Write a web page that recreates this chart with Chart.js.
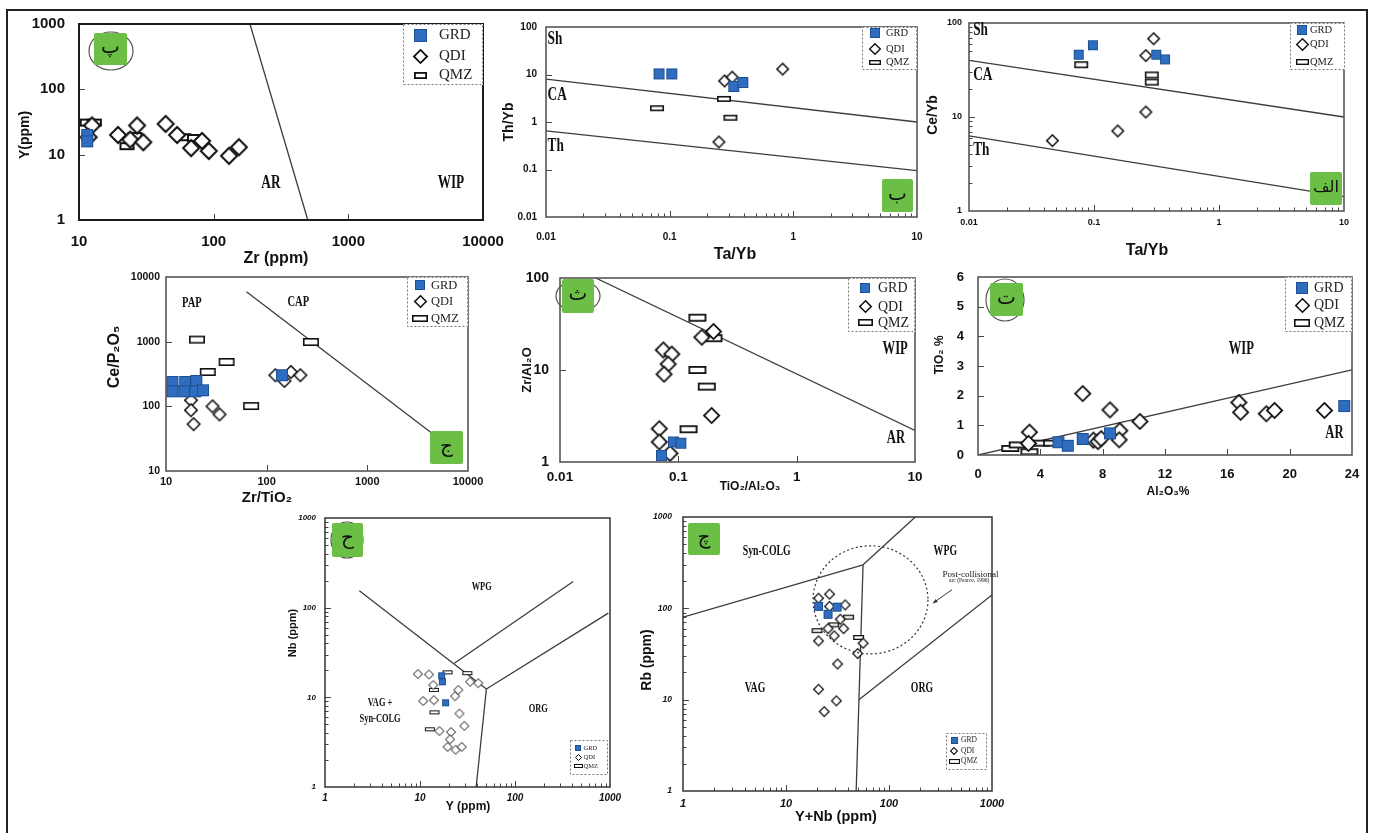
<!DOCTYPE html>
<html>
<head>
<meta charset="utf-8">
<script src="https://cdn.jsdelivr.net/npm/chart.js@4.4.1/dist/chart.umd.min.js"></script>
<style>
  html, body { margin: 0; padding: 0; background: #fff; }
  #page { position: relative; width: 1373px; height: 833px; overflow: hidden; background: #fff; }
  #page canvas { position: absolute; left: 0; top: 0; }
  #frame { position: absolute; left: 6px; top: 9px; width: 1362px; height: 840px; border: 2px solid #222; box-sizing: border-box; }
</style>
</head>
<body>
<div id="page"><div id="frame"></div></div>
<script>
// ---------- tick values ----------
const DEC_10_10000 = [10, 100, 1000, 10000];
const DEC_1_1000 = [1, 10, 100, 1000];
const DEC_001_10 = [0.01, 0.1, 1, 10];
const DEC_001_100 = [0.01, 0.1, 1, 10, 100];
const DEC_1_100 = [1, 10, 100];
const AL2O3_TICKS = [0, 4, 8, 12, 16, 20, 24];
const TIO2_TICKS = [0, 1, 2, 3, 4, 5, 6];

// ---------- Y vs Zr ----------
const ZR_Y_GRD = [[11.5, 20], [11.5, 16]];
const ZR_Y_QDI = [[12.5, 28], [11.8, 18.5], [19.5, 20], [24, 17], [27, 28], [30, 15.5], [44, 29.6], [53.5, 20],
                  [68, 12.6], [82, 16.2], [92, 11.4], [130, 9.6], [154, 13]];
const ZR_Y_QMZ = [[11.5, 31], [13, 31], [22.7, 13.5], [26, 19.3], [60, 18.5], [72, 18]];
const ZR_Y_BOUNDARY = [[186, 1000], [500, 1]];

// ---------- Th/Yb vs Ta/Yb ----------
const TA_TH_GRD = [[0.082, 10.3], [0.104, 10.3], [0.33, 5.6], [0.39, 6.8]];
const TA_TH_QDI = [[0.278, 7.3], [0.32, 8.8], [0.82, 13], [0.25, 0.38]];
const TA_TH_QMZ = [[0.079, 1.95], [0.275, 3.06], [0.31, 1.23]];
const TA_TH_SH_CA = [[0.01, 8], [10, 1]];
const TA_TH_CA_TH = [[0.01, 0.65], [10, 0.095]];

// ---------- Ce/Yb vs Ta/Yb ----------
const TA_CE_GRD = [[0.0755, 46], [0.098, 58], [0.315, 46], [0.37, 41]];
const TA_CE_QDI = [[0.30, 68], [0.26, 45], [0.26, 11.3], [0.155, 7.1], [0.0465, 5.6]];
const TA_CE_QMZ = [[0.079, 36], [0.29, 28], [0.29, 23.5]];
const TA_CE_SH_CA = [[0.01, 40], [10, 10]];
const TA_CE_CA_TH = [[0.01, 6.3], [10, 1.42]];

// ---------- Ce/P2O5 vs Zr/TiO2 ----------
const ZRTI_CEP_GRD = [[11.6, 238], [15.5, 238], [20, 247], [11.6, 171], [15.2, 171], [19.5, 171], [23.3, 177], [142, 303]];
const ZRTI_CEP_QDI = [[17.7, 124], [17.7, 87], [18.8, 53], [29, 100], [34, 75], [122, 303], [174, 340], [150, 247], [216, 303]];
const ZRTI_CEP_QMZ = [[20.3, 1076], [40, 485], [26, 340], [70, 101], [275, 990]];
const ZRTI_CEP_BOUNDARY = [[63, 5900], [5700, 28]];

// ---------- Zr/Al2O3 vs TiO2/Al2O3 ----------
const TIAL_ZRAL_GRD = [[0.072, 1.18], [0.091, 1.65], [0.105, 1.6]];
const TIAL_ZRAL_QDI = [[0.0746, 16.5], [0.088, 14.9], [0.082, 11.6], [0.0757, 9.0], [0.158, 22.7], [0.198, 26.2],
                       [0.191, 3.2], [0.069, 2.3], [0.069, 1.65], [0.085, 1.24]];
const TIAL_ZRAL_QMZ = [[0.145, 37], [0.198, 22.2], [0.145, 10], [0.174, 6.6], [0.122, 2.27]];
const TIAL_ZRAL_BOUNDARY = [[0.02, 100], [10, 2.2]];

// ---------- TiO2 vs Al2O3 ----------
const AL_TI_GRD = [[23.5, 1.65], [8.47, 0.73], [6.72, 0.54], [5.16, 0.43], [5.76, 0.31]];
const AL_TI_QDI = [[6.72, 2.07], [8.47, 1.52], [10.39, 1.13], [16.74, 1.77], [16.85, 1.44], [18.5, 1.39], [19.03, 1.5],
                   [22.23, 1.5], [3.3, 0.77], [9.1, 0.82], [9.06, 0.51], [7.4, 0.5], [7.7, 0.45], [7.9, 0.55], [3.24, 0.39]];
const AL_TI_QMZ = [[2.07, 0.22], [2.55, 0.34], [3.3, 0.11], [4.0, 0.4], [4.75, 0.4]];
const AL_TI_BOUNDARY = [[0, 0], [24, 2.87]];

// ---------- Nb vs Y ----------
const Y_NB_GRD = [[16.9, 17.4], [17.2, 14.9], [18.6, 8.7]];
const Y_NB_QDI = [[9.5, 18.2], [12.4, 18], [13.8, 13.7], [10.8, 9.1], [14, 9.3], [23.4, 10.3], [25.3, 12.1], [33.6, 14.9],
                  [41, 14.4], [26, 6.6], [29.3, 4.8], [16, 4.2], [21.2, 4.1], [20.7, 3.4], [19.5, 2.8], [23.7, 2.6], [27.5, 2.8]];
const Y_NB_QMZ = [[19.5, 19], [31.5, 18.6], [14, 12.1], [14.2, 6.8], [12.7, 4.4]];
const Y_NB_WPG_VAG = [[2.3, 154], [50, 12.4]];
const Y_NB_WPG_ORG = [[23, 24], [410, 196]];
const Y_NB_ORG_UP = [[50, 12.4], [960, 87]];
const Y_NB_VAG_ORG = [[50, 12.4], [39, 1]];

// ---------- Rb vs Y+Nb ----------
const YNB_RB_GRD = [[20.7, 105], [31.3, 103], [25.6, 86]];
const YNB_RB_QDI = [[20.7, 129], [26.5, 143], [26.5, 105], [37.6, 109], [33.7, 76], [36.3, 60], [25.6, 60], [29.4, 50],
                    [20.7, 44], [56, 41.5], [49.6, 32], [31.7, 24.6], [20.7, 13], [30.8, 9.7], [23.5, 7.4]];
const YNB_RB_QMZ = [[20, 57], [29, 66], [40.5, 80], [50.7, 48]];
const YNB_RB_SYN_VAG = [[1, 80], [56, 300]];
const YNB_RB_SYN_WPG = [[56, 300], [180, 1000]];
const YNB_RB_VAG_WPG = [[56, 300], [48, 1]];
const YNB_RB_WPG_ORG = [[51, 10], [1000, 140]];
const YNB_RB_POST_COLG = [[18.3, 31.7], [239, 484]];   // extent of the post-collisional field
const YNB_RB_POINTER = [[409, 160], [267, 114]];

// ---------- styling ----------
const BLUE = '#2e6dbf';
const BLUE_EDGE = '#1e4f92';
const GREEN = '#6cbf45';
const SANS = '"Liberation Sans", Arial, sans-serif';
const SERIF = '"Liberation Serif", "Times New Roman", serif';
const ARABIC = '"DejaVu Sans", "Noto Sans", sans-serif';

function marker(kind, w, h, lw) {
  const pad = 2;
  const c = document.createElement('canvas');
  c.width = Math.round(w + 2 * pad);
  c.height = Math.round(h + 2 * pad);
  const g = c.getContext('2d');
  const cx = c.width / 2, cy = c.height / 2;
  if (kind === 'GRD') {
    g.fillStyle = BLUE;
    g.fillRect(cx - w / 2, cy - h / 2, w, h);
    g.strokeStyle = BLUE_EDGE; g.lineWidth = 1;
    g.strokeRect(cx - w / 2 + 0.5, cy - h / 2 + 0.5, w - 1, h - 1);
  } else if (kind === 'QDI') {
    const r = w / 2 - lw / 2;
    g.beginPath();
    g.moveTo(cx, cy - r); g.lineTo(cx + r, cy); g.lineTo(cx, cy + r); g.lineTo(cx - r, cy); g.closePath();
    g.fillStyle = '#fff'; g.fill();
    g.strokeStyle = '#111'; g.lineWidth = lw; g.lineJoin = 'miter'; g.stroke();
  } else {
    g.fillStyle = '#fff';
    g.fillRect(cx - w / 2, cy - h / 2, w, h);
    g.strokeStyle = '#111'; g.lineWidth = lw;
    g.strokeRect(cx - w / 2 + lw / 2, cy - h / 2 + lw / 2, w - lw, h - lw);
  }
  return c;
}

function markerSet(m) {
  return {
    GRD: marker('GRD', m.sq, m.sq, m.lw),
    QDI: marker('QDI', m.di, m.di, m.lw),
    QMZ: marker('QMZ', m.rw, m.rh, m.lw)
  };
}

const PANELS = [
  { // Y vs Zr
    area: [79, 24, 483, 220],
    x: { type: 'logarithmic', min: 10, max: 10000, ticks: DEC_10_10000, size: 15, pad: 13, style: 'normal', minor: false },
    y: { type: 'logarithmic', min: 1, max: 1000, ticks: DEC_1_1000, size: 15, pad: 14, style: 'normal', minor: false },
    sets: { GRD: ZR_Y_GRD, QDI: ZR_Y_QDI, QMZ: ZR_Y_QMZ },
    lines: [ZR_Y_BOUNDARY],
    mk: { sq: 12, di: 18, rw: 15, rh: 8, lw: 2 },
    frame: { color: '#1a1a1a', width: 2 },
    xTitle: { text: 'Zr (ppm)', x: 276, y: 259, size: 16 },
    yTitle: { text: 'Y(ppm)', x: 25, y: 135, size: 14 },
    fields: [{ t: 'AR', x: 266, y: 3.7, size: 19 }, { t: 'WIP', x: 5780, y: 3.7, size: 19 }],
    legend: { box: [403, 24, 483, 85], rows: [35, 56, 75], mx: 420, tx: 439, size: 15, mk: { sq: 13, di: 15, rw: 13, rh: 7, lw: 1.8 } },
    badge: { box: [94, 33, 127, 65], text: 'پ', size: 20, ring: [111, 51, 22, 19] }
  },
  { // Th/Yb vs Ta/Yb
    area: [546, 27, 917, 217],
    x: { type: 'logarithmic', min: 0.01, max: 10, ticks: DEC_001_10, size: 10, pad: 14, style: 'normal', minor: true },
    y: { type: 'logarithmic', min: 0.01, max: 100, ticks: DEC_001_100, size: 10, pad: 9, style: 'normal', minor: false },
    sets: { GRD: TA_TH_GRD, QDI: TA_TH_QDI, QMZ: TA_TH_QMZ },
    lines: [TA_TH_SH_CA, TA_TH_CA_TH],
    mk: { sq: 11, di: 13, rw: 14, rh: 6, lw: 1.6 },
    frame: { color: '#555', width: 1.6 },
    xTitle: { text: 'Ta/Yb', x: 735, y: 255, size: 16 },
    yTitle: { text: 'Th/Yb', x: 509, y: 122, size: 14 },
    fields: [{ t: 'Sh', x: 0.0103, y: 56.6, size: 19, align: 'left' }, { t: 'CA', x: 0.0103, y: 3.7, size: 19, align: 'left' },
             { t: 'Th', x: 0.0103, y: 0.31, size: 19, align: 'left' }],
    legend: { box: [862, 27, 917, 70], rows: [33, 49, 62], mx: 875, tx: 886, size: 10.5, mk: { sq: 10, di: 12, rw: 12, rh: 5, lw: 1.4 } },
    badge: { box: [882, 179, 913, 212], text: 'ب', size: 20 }
  },
  { // Ce/Yb vs Ta/Yb
    area: [969, 23, 1344, 211],
    x: { type: 'logarithmic', min: 0.01, max: 10, ticks: DEC_001_10, size: 9, pad: 6, style: 'normal', minor: true },
    y: { type: 'logarithmic', min: 1, max: 100, ticks: DEC_1_100, size: 9, pad: 7, style: 'normal', minor: true },
    sets: { GRD: TA_CE_GRD, QDI: TA_CE_QDI, QMZ: TA_CE_QMZ },
    lines: [TA_CE_SH_CA, TA_CE_CA_TH],
    mk: { sq: 10, di: 13, rw: 14, rh: 7, lw: 1.6 },
    frame: { color: '#555', width: 1.6 },
    xTitle: { text: 'Ta/Yb', x: 1147, y: 251, size: 16 },
    yTitle: { text: 'Ce/Yb', x: 933, y: 115, size: 14 },
    fields: [{ t: 'Sh', x: 0.0108, y: 83.6, size: 19, align: 'left' }, { t: 'CA', x: 0.0108, y: 27.8, size: 19, align: 'left' },
             { t: 'Th', x: 0.0108, y: 4.5, size: 19, align: 'left' }],
    legend: { box: [1290, 23, 1345, 70], rows: [30, 44, 62], mx: 1302, tx: 1310, size: 10.5, mk: { sq: 10, di: 13, rw: 13, rh: 6, lw: 1.4 } },
    badge: { box: [1310, 172, 1342, 205], text: 'الف', size: 16 }
  },
  { // Ce/P2O5 vs Zr/TiO2
    area: [166, 277, 468, 471],
    x: { type: 'logarithmic', min: 10, max: 10000, ticks: DEC_10_10000, size: 11, pad: 4, style: 'normal', minor: false },
    y: { type: 'logarithmic', min: 10, max: 10000, ticks: DEC_10_10000, size: 10.5, pad: 6, style: 'normal', minor: false },
    sets: { GRD: ZRTI_CEP_GRD, QDI: ZRTI_CEP_QDI, QMZ: ZRTI_CEP_QMZ },
    lines: [ZRTI_CEP_BOUNDARY],
    mk: { sq: 12, di: 14, rw: 16, rh: 8, lw: 1.6 },
    frame: { color: '#555', width: 1.6 },
    xTitle: { text: 'Zr/TiO₂', x: 267, y: 498, size: 15 },
    yTitle: { text: 'Ce/P₂O₅', x: 115, y: 357, size: 16 },
    fields: [{ t: 'PAP', x: 18.1, y: 3880, size: 15 }, { t: 'CAP', x: 206, y: 4110, size: 15 }],
    legend: { box: [407, 277, 468, 327], rows: [285, 301.5, 318], mx: 420, tx: 431, size: 12.5, mk: { sq: 10, di: 13, rw: 16, rh: 7, lw: 1.6 } },
    badge: { box: [430, 431, 463, 464], text: 'ج', size: 20 }
  },
  { // Zr/Al2O3 vs TiO2/Al2O3
    area: [560, 278, 915, 462],
    x: { type: 'logarithmic', min: 0.01, max: 10, ticks: DEC_001_10, size: 13.5, pad: 7, style: 'normal', minor: false },
    y: { type: 'logarithmic', min: 1, max: 100, ticks: DEC_1_100, size: 14, pad: 11, style: 'normal', minor: false },
    sets: { GRD: TIAL_ZRAL_GRD, QDI: TIAL_ZRAL_QDI, QMZ: TIAL_ZRAL_QMZ },
    lines: [TIAL_ZRAL_BOUNDARY],
    mk: { sq: 11, di: 17, rw: 18, rh: 8, lw: 1.8 },
    frame: { color: '#555', width: 1.6 },
    xTitle: { text: 'TiO₂/Al₂O₃', x: 750, y: 487, size: 12 },
    yTitle: { text: 'Zr/Al₂O', x: 527, y: 370, size: 13 },
    fields: [{ t: 'WIP', x: 6.8, y: 16.8, size: 18 }, { t: 'AR', x: 6.9, y: 1.8, size: 18 }],
    legend: { box: [848, 278, 915, 332], rows: [288, 306.5, 322.5], mx: 865, tx: 878, size: 14, mk: { sq: 10, di: 13, rw: 15, rh: 7, lw: 1.6 } },
    badge: { box: [562, 279, 594, 313], text: 'ث', size: 20, ring: [578, 296, 22, 16] }
  },
  { // TiO2 vs Al2O3
    area: [978, 277, 1352, 455],
    x: { type: 'linear', min: 0, max: 24, ticks: AL2O3_TICKS, size: 13, pad: 12, style: 'normal', minor: false },
    y: { type: 'linear', min: 0, max: 6, ticks: TIO2_TICKS, size: 13, pad: 14, style: 'normal', minor: false },
    sets: { GRD: AL_TI_GRD, QDI: AL_TI_QDI, QMZ: AL_TI_QMZ },
    lines: [AL_TI_BOUNDARY],
    mk: { sq: 12, di: 17, rw: 18, rh: 7, lw: 1.8 },
    frame: { color: '#555', width: 1.6 },
    xTitle: { text: 'Al₂O₃%', x: 1168, y: 492, size: 12 },
    yTitle: { text: 'TiO₂ %', x: 940, y: 355, size: 12 },
    fields: [{ t: 'WIP', x: 16.9, y: 3.57, size: 18 }, { t: 'AR', x: 22.87, y: 0.73, size: 18 }],
    legend: { box: [1285, 277, 1352, 332], rows: [288, 305, 322.5], mx: 1302, tx: 1314, size: 14, mk: { sq: 12, di: 15, rw: 16, rh: 8, lw: 1.6 } },
    badge: { box: [990, 283, 1023, 316], text: 'ت', size: 20, ring: [1005, 300, 19, 21] }
  },
  { // Nb vs Y
    area: [325, 518, 610, 787],
    x: { type: 'logarithmic', min: 1, max: 1000, ticks: DEC_1_1000, size: 10, pad: 5, style: 'italic', minor: true },
    y: { type: 'logarithmic', min: 1, max: 1000, ticks: DEC_1_1000, size: 8, pad: 9, style: 'italic', minor: true },
    sets: { GRD: Y_NB_GRD, QDI: Y_NB_QDI, QMZ: Y_NB_QMZ },
    lines: [Y_NB_WPG_VAG, Y_NB_WPG_ORG, Y_NB_ORG_UP, Y_NB_VAG_ORG],
    mk: { sq: 7, di: 10, rw: 10, rh: 4, lw: 1 },
    frame: { color: '#333', width: 1.5 },
    xTitle: { text: 'Y (ppm)', x: 468, y: 807, size: 12 },
    yTitle: { text: 'Nb (ppm)', x: 293, y: 633, size: 11 },
    fields: [{ t: 'WPG', x: 44.6, y: 172, size: 12 }, { t: 'ORG', x: 176, y: 7.5, size: 12 },
             { t: 'VAG +', x: 3.8, y: 8.6, size: 12 }, { t: 'Syn-COLG', x: 3.8, y: 5.8, size: 12 }],
    legend: { box: [570, 740, 608, 775], rows: [747.5, 757, 766], mx: 578, tx: 583.5, size: 6.5, mk: { sq: 6, di: 7, rw: 9, rh: 4, lw: 1 } },
    badge: { box: [332, 523, 363, 557], text: 'ح', size: 20, ring: [347, 540, 16, 18] }
  },
  { // Rb vs Y+Nb
    area: [683, 517, 992, 791],
    x: { type: 'logarithmic', min: 1, max: 1000, ticks: DEC_1_1000, size: 11, pad: 6, style: 'italic', minor: true },
    y: { type: 'logarithmic', min: 1, max: 1000, ticks: DEC_1_1000, size: 8.5, pad: 11, style: 'italic', minor: true },
    sets: { GRD: YNB_RB_GRD, QDI: YNB_RB_QDI, QMZ: YNB_RB_QMZ },
    lines: [YNB_RB_SYN_VAG, YNB_RB_SYN_WPG, YNB_RB_VAG_WPG, YNB_RB_WPG_ORG],
    mk: { sq: 9, di: 11, rw: 11, rh: 5, lw: 1.3 },
    frame: { color: '#333', width: 1.5 },
    xTitle: { text: 'Y+Nb (ppm)', x: 836, y: 817, size: 14.5 },
    yTitle: { text: 'Rb (ppm)', x: 647, y: 660, size: 14 },
    fields: [{ t: 'Syn-COLG', x: 6.5, y: 420, size: 14 }, { t: 'WPG', x: 352, y: 420, size: 14 },
             { t: 'VAG', x: 5.0, y: 13.3, size: 14 }, { t: 'ORG', x: 209, y: 13.3, size: 14 }],
    ellipse: YNB_RB_POST_COLG,
    pointer: YNB_RB_POINTER,
    note: [{ t: 'Post-collisional', x: 620, y: 235, size: 9 }, { t: 'arc (Pearce, 1996)', x: 600, y: 200, size: 5.5 }],
    legend: { box: [946, 733, 987, 770], rows: [740, 750.5, 761], mx: 954, tx: 961, size: 7.5, mk: { sq: 7, di: 8, rw: 11, rh: 5, lw: 1.1 } },
    badge: { box: [688, 523, 720, 555], text: 'چ', size: 20 }
  }
];

function minorValues(ax) {
  const out = [];
  if (!ax.minor) return out;
  for (let e = Math.floor(Math.log10(ax.min)); e < Math.ceil(Math.log10(ax.max)); e++) {
    for (let k = 2; k <= 9; k++) {
      const v = k * Math.pow(10, e);
      if (v > ax.min && v < ax.max) out.push(v);
    }
  }
  return out;
}

function fmt(v) {
  return String(v);
}

function roundRect(ctx, x, y, w, h, r) {
  ctx.beginPath();
  ctx.moveTo(x + r, y);
  ctx.lineTo(x + w - r, y); ctx.quadraticCurveTo(x + w, y, x + w, y + r);
  ctx.lineTo(x + w, y + h - r); ctx.quadraticCurveTo(x + w, y + h, x + w - r, y + h);
  ctx.lineTo(x + r, y + h); ctx.quadraticCurveTo(x, y + h, x, y + h - r);
  ctx.lineTo(x, y + r); ctx.quadraticCurveTo(x, y, x + r, y);
  ctx.closePath();
}

function decorations(p, legendMarks) {
  return {
    id: 'decorations',
    afterDraw(chart) {
      const ctx = chart.ctx;
      const xs = chart.scales.x, ys = chart.scales.y;
      const a = chart.chartArea;
      ctx.save();

      // inward tick marks
      ctx.strokeStyle = '#444';
      ctx.lineWidth = 1;
      const tickSet = (ax, vals, len, horizontal) => {
        vals.forEach(v => {
          if (v <= ax.min || v >= ax.max) return;
          ctx.beginPath();
          if (horizontal) {
            const px = Math.round(xs.getPixelForValue(v)) + 0.5;
            ctx.moveTo(px, a.bottom); ctx.lineTo(px, a.bottom - len);
          } else {
            const py = Math.round(ys.getPixelForValue(v)) + 0.5;
            ctx.moveTo(a.left, py); ctx.lineTo(a.left + len, py);
          }
          ctx.stroke();
        });
      };
      tickSet(p.x, p.x.ticks, 6, true);
      tickSet(p.x, minorValues(p.x), 3.5, true);
      tickSet(p.y, p.y.ticks, 6, false);
      tickSet(p.y, minorValues(p.y), 3.5, false);

      // plot frame
      ctx.strokeStyle = p.frame.color;
      ctx.lineWidth = p.frame.width;
      ctx.strokeRect(a.left, a.top, a.right - a.left, a.bottom - a.top);

      // dashed field outline
      if (p.ellipse) {
        const x0 = xs.getPixelForValue(p.ellipse[0][0]), x1 = xs.getPixelForValue(p.ellipse[1][0]);
        const y0 = ys.getPixelForValue(p.ellipse[0][1]), y1 = ys.getPixelForValue(p.ellipse[1][1]);
        ctx.beginPath();
        ctx.ellipse((x0 + x1) / 2, (y0 + y1) / 2, Math.abs(x1 - x0) / 2, Math.abs(y1 - y0) / 2, 0, 0, Math.PI * 2);
        ctx.setLineDash([2, 2.5]);
        ctx.strokeStyle = '#333';
        ctx.lineWidth = 1.2;
        ctx.stroke();
        ctx.setLineDash([]);
      }
      if (p.pointer) {
        const sx = xs.getPixelForValue(p.pointer[0][0]), sy = ys.getPixelForValue(p.pointer[0][1]);
        const ex = xs.getPixelForValue(p.pointer[1][0]), ey = ys.getPixelForValue(p.pointer[1][1]);
        ctx.strokeStyle = '#333'; ctx.fillStyle = '#333'; ctx.lineWidth = 1;
        ctx.beginPath(); ctx.moveTo(sx, sy); ctx.lineTo(ex, ey); ctx.stroke();
        const ang = Math.atan2(ey - sy, ex - sx);
        ctx.beginPath();
        ctx.moveTo(ex, ey);
        ctx.lineTo(ex - 5 * Math.cos(ang - 0.4), ey - 5 * Math.sin(ang - 0.4));
        ctx.lineTo(ex - 5 * Math.cos(ang + 0.4), ey - 5 * Math.sin(ang + 0.4));
        ctx.closePath(); ctx.fill();
      }

      // field names (condensed bold serif)
      ctx.fillStyle = '#111';
      ctx.textBaseline = 'middle';
      (p.fields || []).forEach(f => {
        const px = xs.getPixelForValue(f.x), py = ys.getPixelForValue(f.y);
        ctx.save();
        ctx.translate(px, py);
        ctx.scale(0.7, 1);
        ctx.font = `bold ${f.size}px ${SERIF}`;
        ctx.textAlign = f.align || 'center';
        ctx.fillText(f.t, 0, 0);
        ctx.restore();
      });
      (p.note || []).forEach(f => {
        const px = xs.getPixelForValue(f.x), py = ys.getPixelForValue(f.y);
        ctx.font = `${f.size}px ${SERIF}`;
        ctx.textAlign = 'center';
        ctx.fillText(f.t, px, py);
      });

      // legend
      const lg = p.legend;
      const [lx0, ly0, lx1, ly1] = lg.box;
      ctx.fillStyle = '#fff';
      ctx.fillRect(lx0, ly0, lx1 - lx0, ly1 - ly0);
      ctx.setLineDash([2, 2]);
      ctx.strokeStyle = '#777';
      ctx.lineWidth = 1;
      ctx.strokeRect(lx0 + 0.5, ly0 + 0.5, lx1 - lx0 - 1, ly1 - ly0 - 1);
      ctx.setLineDash([]);
      ['GRD', 'QDI', 'QMZ'].forEach((name, i) => {
        const img = legendMarks[name];
        const cy = lg.rows[i];
        ctx.drawImage(img, Math.round(lg.mx - img.width / 2), Math.round(cy - img.height / 2));
        ctx.fillStyle = '#222';
        ctx.font = `${lg.size}px ${SERIF}`;
        ctx.textAlign = 'left';
        ctx.textBaseline = 'middle';
        ctx.fillText(name, lg.tx, cy + 0.5);
      });

      // panel badge
      const b = p.badge;
      const [bx0, by0, bx1, by1] = b.box;
      if (b.ring) {
        ctx.beginPath();
        ctx.ellipse(b.ring[0], b.ring[1], b.ring[2], b.ring[3], 0, 0, Math.PI * 2);
        ctx.strokeStyle = '#555';
        ctx.lineWidth = 1.2;
        ctx.stroke();
      }
      ctx.fillStyle = GREEN;
      roundRect(ctx, bx0, by0, bx1 - bx0, by1 - by0, 2);
      ctx.fill();
      ctx.fillStyle = '#111';
      ctx.font = `${b.size}px ${ARABIC}`;
      ctx.textAlign = 'center';
      ctx.textBaseline = 'middle';
      ctx.fillText(b.text, (bx0 + bx1) / 2, (by0 + by1) / 2 - 1);

      // axis titles
      ctx.fillStyle = '#111';
      ctx.textAlign = 'center';
      ctx.textBaseline = 'middle';
      ctx.font = `bold ${p.xTitle.size}px ${SANS}`;
      ctx.fillText(p.xTitle.text, p.xTitle.x, p.xTitle.y);
      ctx.save();
      ctx.translate(p.yTitle.x, p.yTitle.y);
      ctx.rotate(-Math.PI / 2);
      ctx.font = `bold ${p.yTitle.size}px ${SANS}`;
      ctx.fillText(p.yTitle.text, 0, 0);
      ctx.restore();

      ctx.restore();
    }
  };
}

function axisOptions(ax, isX) {
  const YW = 70, XH = 40;
  return {
    type: ax.type,
    position: isX ? 'bottom' : 'left',
    min: ax.min,
    max: ax.max,
    afterBuildTicks: s => { s.ticks = ax.ticks.map(v => ({ value: v })); },
    afterFit: s => { if (isX) s.height = XH; else s.width = YW; },
    grid: { display: false, drawTicks: false },
    border: { display: false },
    ticks: {
      autoSkip: false,
      maxRotation: 0,
      padding: ax.pad,
      color: '#111',
      font: { family: SANS, size: ax.size, weight: 'bold', style: ax.style },
      callback: v => fmt(v)
    }
  };
}

const page = document.getElementById('page');
PANELS.forEach(p => {
  const canvas = document.createElement('canvas');
  canvas.width = 1373;
  canvas.height = 833;
  page.appendChild(canvas);
  const marks = markerSet(p.mk);
  const legendMarks = markerSet(p.legend.mk);
  const [L, T, R, B] = p.area;
  const datasets = [];
  ['GRD', 'QDI', 'QMZ'].forEach((name, i) => {
    datasets.push({
      label: name,
      data: p.sets[name].map(d => ({ x: d[0], y: d[1] })),
      pointStyle: marks[name],
      pointRadius: 6,
      pointHoverRadius: 6,
      showLine: false,
      order: i + 1
    });
  });
  p.lines.forEach(seg => {
    datasets.push({
      label: 'boundary',
      data: seg.map(d => ({ x: d[0], y: d[1] })),
      showLine: true,
      borderColor: '#3c3c3c',
      borderWidth: 1.3,
      pointRadius: 0,
      pointHoverRadius: 0,
      fill: false,
      order: 10
    });
  });
  new Chart(canvas, {
    type: 'scatter',
    data: { datasets },
    options: {
      responsive: false,
      animation: false,
      events: [],
      devicePixelRatio: 1,
      layout: { padding: { left: L - 70, top: T, right: 1373 - R, bottom: 833 - B - 40 } },
      plugins: { legend: { display: false }, tooltip: { enabled: false } },
      scales: { x: axisOptions(p.x, true), y: axisOptions(p.y, false) }
    },
    plugins: [decorations(p, legendMarks)]
  });
});
</script>
</body>
</html>
